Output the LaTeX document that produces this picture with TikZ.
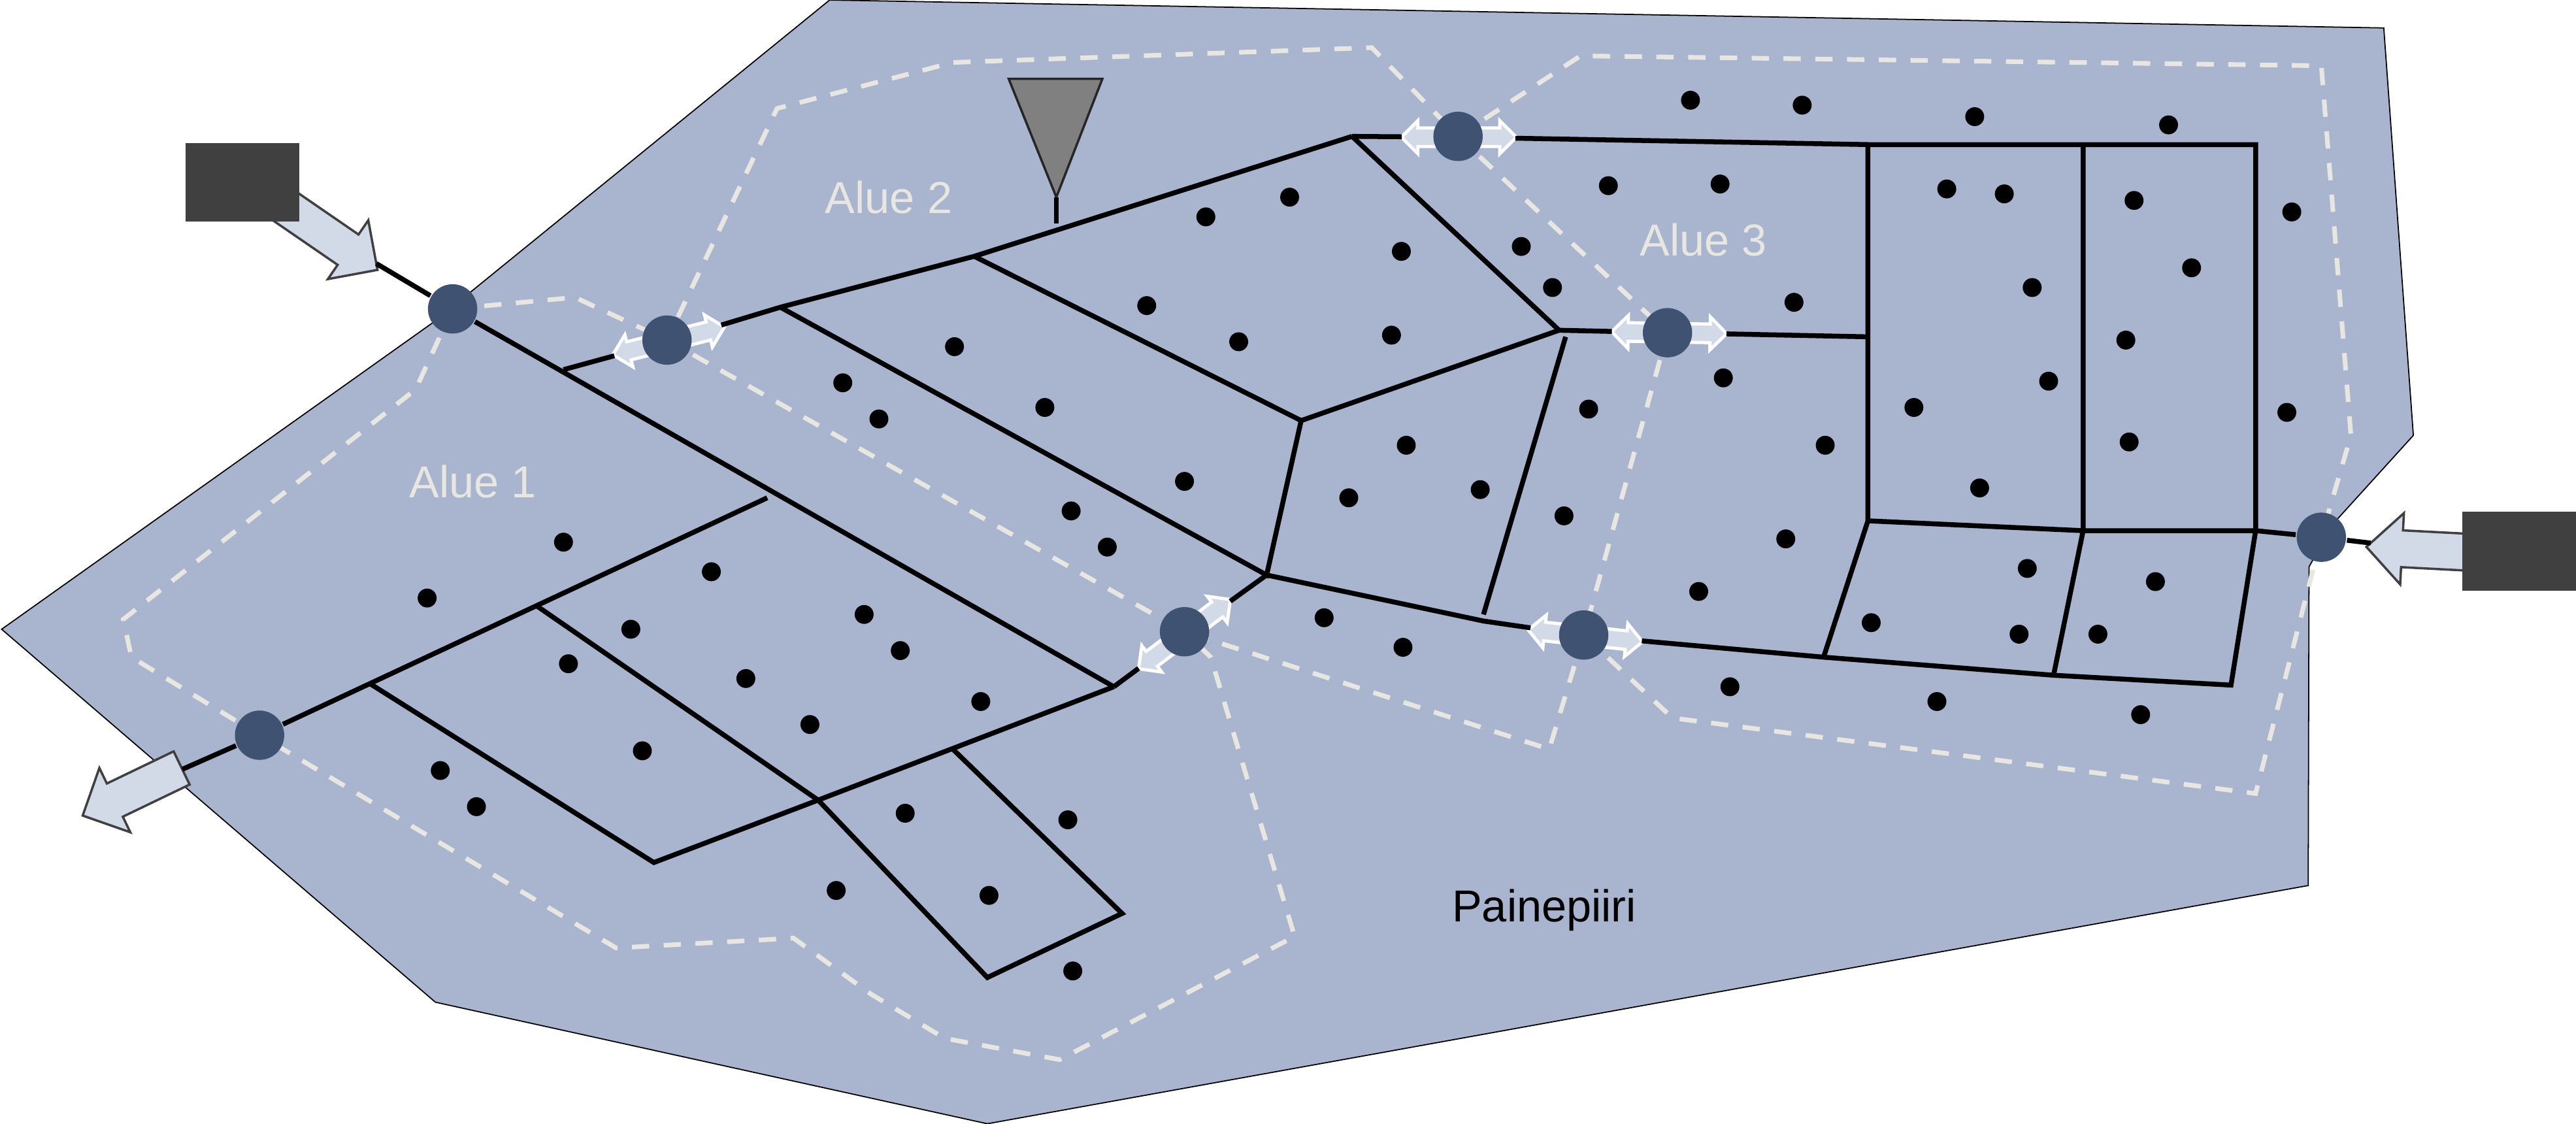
\documentclass[tikz,border=0pt]{standalone}
\usepackage{fontspec}
\setmainfont{Liberation Sans}
\usetikzlibrary{shapes.arrows}
\definecolor{basin}{HTML}{A9B5CE}
\definecolor{hub}{HTML}{405272}
\definecolor{zone}{HTML}{E7E6E1}
\definecolor{flowfill}{HTML}{D3DAE7}
\definecolor{dark}{HTML}{404040}
\begin{document}
\begin{tikzpicture}[x=0.01cm,y=-0.01cm]

\tikzset{hubnode/.style = {shape=circle,fill=hub,inner sep=0,minimum size=0.3cm}}
\tikzset{user/.style = {shape=circle,fill=black,inner sep=0,minimum size=0.115cm}}
\tikzset{pipe/.style = {line width=0.85pt,line join=miter}}
\tikzset{zoneline/.style = {zone,line width=0.8pt,dash pattern=on 3pt off 2.5pt}}
\tikzset{source/.style = {shape=rectangle,fill=dark,inner sep=0,minimum width=0.69cm,minimum height=0.48cm}}
\tikzset{feed/.style = {shape=single arrow,draw=dark,fill=flowfill,line width=0.4pt,inner xsep=0,inner ysep=0.105cm,outer sep=0,
  single arrow head extend=0.105cm,single arrow tip angle=90}}
\tikzset{valve/.style = {shape=double arrow,draw=white,fill=flowfill,line width=0.55pt,inner xsep=0,inner ysep=0.047cm,outer sep=0,
  minimum height=0.7cm,double arrow head extend=0.044cm,double arrow tip angle=90}}
\tikzset{zonelabel/.style = {zone,font=\fontsize{7.75}{9}\selectfont}}

\useasboundingbox (0,0) rectangle (1568,684);

% hub points
\coordinate (c1) at (275.5,188);
\coordinate (c2) at (406,207);
\coordinate (c3) at (158,447.5);
\coordinate (c4) at (721,384.5);
\coordinate (c5) at (887.5,83);
\coordinate (c6) at (1015,202.5);
\coordinate (c7) at (964,386.5);
\coordinate (c8) at (1413,327);

% pressure area
\draw[fill=basin,line width=0.2pt]
  (505,0) -- (1451,17) -- (1469,265) -- (1420,319) -- (1405.5,345) -- (1405,539)
  -- (601,684) -- (265,610) -- (1,383) -- (264,196) -- cycle;

% zones
\draw[zoneline] (c1) -- (253,237) -- (75,377) -- (80,400) -- (c3) -- (375,577) -- (483,571)
  -- (530,605) -- (575,632) -- (645,645) -- (788,570) -- (737,400) -- (c4);
\draw[zoneline] (c1) -- (350,181) -- (c2) -- (c4) -- (943,456) -- (c7) -- (c6) -- (c5)
  -- (835,29) -- (580,38) -- (473,66) -- (c2);
\draw[zoneline] (c5) -- (962,34) -- (1413,40) -- (1431,265) -- (c8) -- (1373,483) -- (1018,437) -- (c7);

% feeds
\node[feed,minimum height=0.78cm,rotate=-34.5] (f1) at (193,139) {};
\node[feed,minimum height=0.7cm,rotate=177] (f2) at (1481,335) {};
\node[feed,minimum height=0.668cm,rotate=205.7] (f3) at (85.5,479.5) {};
\node[source] (s1) at (147.5,111) {};
\node[source] (s2) at (1533.5,335.5) {};

% valves
\node[valve,rotate=14] (v2) at (407,207.5) {};
\node[valve,rotate=37] (v4) at (721,386) {};
\node[valve,rotate=0] (v5) at (888,83.5) {};
\node[valve,rotate=-1] (v6) at (1016,202.5) {};
\node[valve,rotate=-6] (v7) at (965,387) {};

% hubs
\foreach \i in {1,...,8} \node[hubnode] (j\i) at (c\i) {};

% pipe points
\coordinate (a) at (343,225);
\coordinate (b) at (475,187);
\coordinate (e) at (593,156);
\coordinate (g) at (823,83);
\coordinate (h) at (949,201);
\coordinate (k) at (792,256);
\coordinate (l) at (771,350);
\coordinate (m) at (903,378);
\coordinate (n) at (953,205);
\coordinate (o) at (903,374);
\coordinate (p) at (1137,88);
\coordinate (q) at (1137,205);
\coordinate (r) at (1137,317);
\coordinate (s) at (1268,88);
\coordinate (t) at (1373,88);
\coordinate (u) at (1268,323);
\coordinate (w) at (1373,323);
\coordinate (x) at (1110,400);
\coordinate (y) at (1250,411);
\coordinate (z) at (1358,417);
\coordinate (aa) at (678,418);
\coordinate (ab) at (467,303);
\coordinate (ac) at (327,369);
\coordinate (ad) at (225,416);
\coordinate (ae) at (398,525);
\coordinate (af) at (498,487);
\coordinate (ag) at (580,456);
\coordinate (ah) at (683,556);
\coordinate (ai) at (601,595);
\coordinate (tip) at (643,120);
\coordinate (stem) at (643,136);

% pipes
\draw[pipe] (f1) -- (j1);
\draw[pipe] (j1) -- (aa);
\draw[pipe] (aa) -- (v4);
\draw[pipe] (v4) -- (l);
\draw[pipe] (f3) -- (j3);
\draw[pipe] (j3) -- (ab);
\draw[pipe] (ad) -- (ae) -- (af) -- (aa);
\draw[pipe] (ac) -- (af) -- (ai) -- (ah) -- (ag);
\draw[pipe] (a) -- (v2);
\draw[pipe] (v2) -- (b) -- (e) -- (g);
\draw[pipe] (b) -- (l) -- (k) -- (e);
\draw[pipe] (k) -- (h) -- (g);
\draw[pipe] (g) -- (v5);
\draw[pipe] (v5) -- (p) -- (s) -- (t) -- (w);
\draw[pipe] (h) -- (v6);
\draw[pipe] (v6) -- (q);
\draw[pipe] (o) -- (n);
\draw[pipe] (l) -- (m) -- (v7);
\draw[pipe] (v7) -- (x) -- (y) -- (z) -- (w);
\draw[pipe] (p) -- (r) -- (x);
\draw[pipe] (r) -- (u) -- (w) -- (j8);
\draw[pipe] (s) -- (u) -- (y);
\draw[pipe] (j8) -- (f2);

% tank
\draw[fill=black!50,draw=black!85,line width=0.4pt] (614,48) -- (671,48) -- (tip) -- cycle;
\draw[pipe] (tip) -- (stem);

% users
\foreach \x/\y [count=\i] in {1029/61,1097/64,1202/71,1320/76,979/113,1047/112,1185/115,1220/118,
  1299/122,1395/129,734/132,785/120,853/153,926/150,945/175,1334/163,698/186,754/208,847/204,
  1092/184,1237/175,1294/207,581/211,513/233,535/255,636/248,967/249,1049/230,1247/232,1165/248,
  1392/251,1296/269,1111/271,856/271,1205/297,721/293,821/303,901/298,952/314,652/311,674/333,
  1087/328,1034/360,1234/346,1312/354,1139/379,1229/386,1277/386,806/376,854/394,1053/418,
  1179/427,1303/435,343/330,433/348,260/364,384/383,526/374,548/396,346/404,454/413,493/441,
  597/427,391/457,268/469,290/491,551/495,650/499,509/542,602/545,653/591}
  \node[user] (d\i) at (\x,\y) {};

% labels
\node[zonelabel] (z1) at (288,293) {Alue 1};
\node[zonelabel] (z2) at (541,120) {Alue 2};
\node[zonelabel] (z3) at (1037,146) {Alue 3};
\node[font=\fontsize{7.75}{9}\selectfont] (area) at (940,554) {Painepiiri};

\end{tikzpicture}
\end{document}
